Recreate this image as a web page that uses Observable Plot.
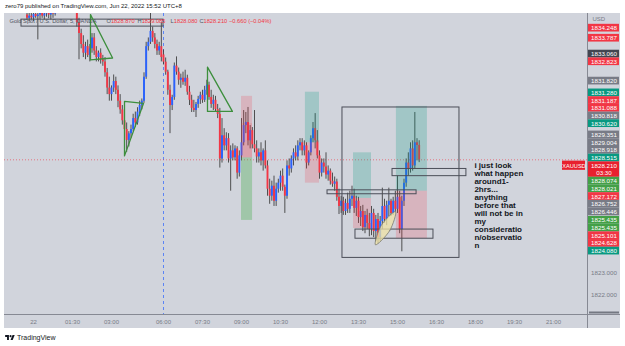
<!DOCTYPE html>
<html>
<head>
<meta charset="utf-8">
<script src="https://cdn.jsdelivr.net/npm/d3@7"></script>
<script src="https://cdn.jsdelivr.net/npm/@observablehq/plot@0.6"></script>
<style>
  html, body { margin: 0; padding: 0; background: #ffffff; }
  body { width: 625px; height: 346px; overflow: hidden; font-family: "Liberation Sans", Arial, sans-serif; }
  #title { height: 13px; line-height: 13px; padding-left: 5px; font-size: 6px; color: #131722; white-space: nowrap; }
  #chart { margin-left: 4px; width: 616px; height: 315px; background: #d1d4dc; }
  #chart svg { display: block; }
  #footer { height: 18px; display: flex; align-items: center; padding-left: 5px; font-size: 7px; color: #131722; }
  #footer svg { margin-right: 2px; }
</style>
</head>
<body>
<div id="title">zero79 published on TradingView.com, Jun 22, 2022 15:52 UTC+8</div>
<div id="chart"></div>
<div id="footer">
  <svg width="10" height="7" viewBox="0 0 36 26"><path d="M14 22H7V11H0V4h14z" fill="#131722"/><circle cx="20" cy="8" r="4" fill="#131722"/><path d="M28 22h-8l7.5-18h8z" fill="#131722"/></svg>
  <span>TradingView</span>
</div>
<script>
// XAUUSD 5-minute bars, Jun 22 2022 (UTC+8). Bar index 0 = 00:00; the
// 05:00–06:00 maintenance break is skipped, so index 60 = 06:00.
const firstBar = -3;

const open = [
  1834.85,1834.70,1834.80,1834.72,1834.88,1834.78,1834.85,1834.95,1834.80,1834.90,1835.05,1834.85,1835.00,1834.90,
  1835.10,1835.25,1835.15,1835.35,1835.20,1835.30,1835.25,1835.15,1835.20,
  1835.00,1834.50,1834.00,1833.50,1833.10,1833.40,1833.00,1833.30,1833.80,1833.20,1832.90,1833.10,1832.80,1832.70,
  1832.20,1831.50,1831.20,1831.50,1831.80,1831.40,1830.90,1830.50,1830.00,1829.60,1829.10,1829.40,1829.60,1830.10,
  1829.90,1830.40,1830.70,1830.90,1832.00,1833.40,1833.60,1834.10,1833.80,1833.50,1833.20,1833.40,
  1833.02,1832.69,1832.23,1831.40,1830.70,1831.07,1832.51,1832.23,1831.86,1831.95,1831.77,1831.95,
  1831.31,1830.94,1830.57,1830.47,1830.75,1830.98,1831.17,1830.94,1831.40,1831.63,1831.07,1830.75,
  1830.94,1830.52,1830.29,1828.25,1829.31,1828.85,1829.18,1828.25,1828.62,1828.30,1828.71,1827.60,
  1828.39,1828.99,1829.78,1829.92,1829.08,1829.55,1828.90,1828.71,1828.34,1828.53,1828.16,1828.62,
  1827.93,1826.86,1826.54,1827.00,1826.31,1826.86,1827.14,1827.46,1826.95,1826.54,1827.93,1827.79,
  1828.25,1828.53,1828.34,1828.85,1828.99,1828.62,1828.85,1828.06,1828.53,1829.18,1829.64,1829.08,
  1828.39,1827.60,1828.06,1827.88,1827.51,1827.69,1827.23,1827.09,1827.19,1826.49,1826.07,1826.31,
  1825.84,1826.21,1825.94,1826.40,1826.54,1825.98,1826.31,1825.56,1825.84,1825.10,1825.66,1825.29,
  1825.01,1825.75,1824.92,1825.47,1824.64,1825.38,1826.07,1825.47,1826.12,1826.31,1825.75,1826.31,
  1825.94,1826.49,1825.01,1826.31,1827.14,1828.06,1827.79,1828.71,1827.93,1828.99,1828.87
];
const high = [
  1835.10,1835.00,1835.05,1834.95,1835.10,1834.95,1835.10,1835.15,1835.00,1835.20,1835.25,1835.10,1835.20,1835.25,
  1835.40,1835.50,1835.45,1835.60,1835.45,1835.55,1835.45,1835.40,1835.35,
  1835.20,1834.70,1834.20,1833.90,1833.60,1833.70,1833.50,1834.00,1834.00,1833.40,1833.20,1833.30,1833.00,1832.90,
  1832.40,1832.00,1831.60,1832.10,1832.00,1831.60,1831.20,1830.70,1830.30,1829.90,1829.50,1829.80,1830.30,1830.40,
  1830.60,1830.90,1831.00,1832.20,1833.60,1833.80,1835.00,1834.30,1834.00,1833.70,1833.60,1834.50,
  1833.25,1832.88,1832.32,1831.63,1831.17,1832.65,1832.93,1832.42,1832.14,1832.23,1832.32,1832.09,
  1831.58,1831.17,1830.94,1830.84,1831.12,1831.31,1831.40,1831.58,1831.86,1831.77,1831.40,1831.17,
  1831.12,1830.75,1830.57,1830.10,1829.64,1829.45,1829.41,1828.85,1828.94,1828.85,1828.81,1828.62,
  1830.10,1830.47,1830.38,1830.61,1829.78,1829.69,1830.47,1829.08,1828.71,1828.99,1828.71,1829.08,
  1828.16,1827.32,1827.23,1827.46,1827.14,1827.32,1827.69,1827.79,1827.05,1828.16,1828.25,1828.39,
  1828.71,1828.85,1829.08,1829.18,1829.18,1829.08,1828.99,1828.62,1829.31,1829.92,1830.33,1829.55,
  1828.62,1828.25,1828.25,1828.53,1827.93,1827.79,1827.60,1827.42,1827.32,1826.86,1826.54,1826.49,
  1826.40,1826.68,1826.77,1827.00,1826.86,1826.54,1826.49,1826.07,1826.12,1825.84,1825.94,1825.75,
  1826.07,1825.94,1825.66,1825.75,1825.61,1826.91,1826.40,1826.31,1826.91,1826.40,1826.49,1826.77,
  1827.46,1826.77,1826.54,1827.32,1828.25,1828.53,1828.99,1829.08,1830.38,1829.18,1829.085
];
const low = [
  1834.60,1834.55,1834.62,1834.55,1834.70,1833.71,1834.65,1834.70,1834.62,1834.75,1834.68,1834.62,1834.70,1834.80,
  1835.02,1835.05,1835.05,1835.10,1835.05,1835.10,1835.05,1835.02,1834.98,
  1834.30,1832.80,1833.30,1832.90,1832.80,1832.90,1832.70,1833.10,1833.00,1832.70,1832.70,1832.60,1832.50,1832.00,
  1831.20,1830.90,1830.90,1831.30,1831.20,1830.60,1830.30,1829.80,1829.30,1828.55,1828.80,1829.20,1829.50,1829.70,
  1829.80,1830.20,1830.50,1830.80,1831.90,1833.20,1833.50,1833.60,1833.30,1833.00,1833.00,1832.70,
  1832.56,1832.09,1831.17,1829.41,1830.47,1830.94,1832.09,1831.63,1831.49,1831.63,1831.58,1831.17,
  1830.70,1830.38,1830.38,1830.15,1830.57,1830.75,1830.80,1830.84,1831.17,1830.94,1830.57,1830.47,
  1830.38,1830.10,1827.83,1828.06,1828.62,1828.62,1828.06,1826.77,1828.16,1828.16,1827.32,1827.42,
  1828.16,1828.85,1829.41,1828.85,1828.71,1828.71,1828.53,1828.06,1828.06,1827.93,1827.69,1827.79,
  1826.54,1826.17,1826.31,1826.07,1826.07,1826.68,1826.77,1826.77,1825.75,1826.40,1827.46,1827.60,
  1827.93,1828.16,1828.16,1828.62,1828.39,1828.39,1827.79,1827.93,1828.39,1828.99,1828.71,1828.25,
  1827.32,1827.42,1827.60,1827.32,1827.23,1827.05,1826.95,1826.77,1826.31,1825.70,1825.75,1825.66,
  1825.66,1825.75,1825.75,1826.07,1825.75,1825.61,1825.29,1825.15,1824.92,1824.82,1825.01,1824.68,
  1824.73,1824.64,1824.45,1824.36,1824.45,1825.01,1825.29,1825.19,1825.61,1825.61,1825.66,1825.75,
  1825.75,1824.82,1823.99,1826.07,1826.95,1827.46,1827.60,1827.69,1827.79,1828.16,1828.08
];
const close = [
  1834.70,1834.80,1834.72,1834.88,1834.78,1834.85,1834.95,1834.80,1834.90,1835.05,1834.85,1835.00,1834.90,1835.10,
  1835.25,1835.15,1835.35,1835.20,1835.30,1835.25,1835.15,1835.20,1835.00,
  1834.50,1834.00,1833.50,1833.10,1833.40,1833.00,1833.30,1833.80,1833.20,1832.90,1833.10,1832.80,1832.70,1832.20,
  1831.50,1831.20,1831.50,1831.80,1831.40,1830.90,1830.50,1830.00,1829.60,1829.10,1829.40,1829.60,1830.10,1829.90,
  1830.40,1830.70,1830.90,1832.00,1833.40,1833.60,1834.10,1833.80,1833.50,1833.20,1833.40,1832.90,
  1832.69,1832.23,1831.40,1830.70,1831.07,1832.51,1832.23,1831.86,1831.95,1831.77,1831.95,1831.31,
  1830.94,1830.57,1830.47,1830.75,1830.98,1831.17,1830.94,1831.40,1831.63,1831.07,1830.75,1830.94,
  1830.52,1830.29,1828.25,1829.31,1828.85,1829.18,1828.25,1828.62,1828.30,1828.71,1827.60,1828.39,
  1828.99,1829.78,1829.92,1829.08,1829.55,1828.90,1828.71,1828.34,1828.53,1828.16,1828.62,1827.93,
  1826.86,1826.54,1827.00,1826.31,1826.86,1827.14,1827.46,1826.95,1826.54,1827.93,1827.79,1828.25,
  1828.53,1828.34,1828.85,1828.99,1828.62,1828.85,1828.06,1828.53,1829.18,1829.64,1829.08,1828.39,
  1827.60,1828.06,1827.88,1827.51,1827.69,1827.23,1827.09,1827.19,1826.49,1826.07,1826.31,1825.84,
  1826.21,1825.94,1826.40,1826.54,1825.98,1826.31,1825.56,1825.84,1825.10,1825.66,1825.29,1825.01,
  1825.75,1824.92,1825.47,1824.64,1825.38,1826.07,1825.47,1826.12,1826.31,1825.75,1826.31,1825.94,
  1826.49,1825.01,1826.31,1827.14,1828.06,1827.79,1828.71,1827.93,1828.99,1828.87,1828.21
];

// Time axis: bar index of each label and its text
const timeTicks  = [0, 18, 36, 60, 78, 96, 114, 132, 150, 168, 186, 204, 222, 240];
const timeLabels = ["22","01:30","03:00","06:00","07:30","09:00","10:30","12:00","13:30","15:00","16:30","18:00","19:30","21:00"];
const priceTicks = [1822, 1823];

// Long/short position tools: bar span, entry, target and stop prices
const positions = [
  {from: 96,    to: 101.1, entry: 1828.30, target: 1825.43, stop: 1831.12, reached: 1829.87},
  {from: 125.5, to: 132,   entry: 1828.99, target: 1831.31, stop: 1827.14},
  {from: 147.7, to: 156,   entry: 1826.44, target: 1828.53, stop: 1825.06},
  {from: 167.5, to: 181.8, entry: 1826.77, target: 1830.66, stop: 1824.59}
];
// Rectangles drawn on the chart (bar span, top and bottom price)
const boxes = [
  {from: -5.54, to: 60,    top: 1834.64, bottom: 1834.32},
  {from: 142.6, to: 196.6, top: 1830.61, bottom: 1823.71},
  {from: 135.7, to: 176.8, top: 1826.81, bottom: 1826.63},
  {from: 148.6, to: 184.6, top: 1825.01, bottom: 1824.59},
  {from: 165.7, to: 199.8, top: 1827.79, bottom: 1827.46}
];
// Triangle patterns (vertices as bar index / price)
const triangles = [
  {id: 1, k: 26.3, p: 1834.87}, {id: 1, k: 26.3, p: 1832.79}, {id: 1, k: 36.5, p: 1832.88},
  {id: 2, k: 42.0, p: 1830.89}, {id: 2, k: 50.8, p: 1830.80}, {id: 2, k: 42.0, p: 1828.39},
  {id: 3, k: 80.3, p: 1832.46}, {id: 3, k: 80.3, p: 1830.43}, {id: 3, k: 91.8, p: 1830.43}
];
// Ellipse outline around the double bottom
const ellipse = [
  {k: 157.8, p: 1824.31}, {k: 164.4, p: 1824.96}, {k: 167.1, p: 1825.84}, {k: 160.5, p: 1825.20}
];
// Text note anchor
const note = {k: 203.5, p: 1828.11,
  text: "i just look\nwhat happen\naround1-\n2hrs...\nanything\nbefore that\nwill not be in\nmy\nconsideratio\nn/observatio\nn"};

// Price-scale tags (price, kind)
const tagPrices = [1834.248,1833.787,1833.060,1832.823,1831.820,1831.280,1831.187,1831.088,1830.818,1830.620,
  1829.351,1829.004,1828.918,1828.515,1828.074,1828.021,1827.172,1826.752,1826.446,1825.435,1825.435,1825.101,1824.628,1824.080];
const tagKinds = ["red","red","dark","red","gray","teal","red","red","gray","teal",
  "gray","gray","gray","teal","green","green","red","gray","gray","green","green","red","red","teal"];

// ---- layout ----
const W = 616, H = 315, MR = 33, MB = 14;
const xDomain = [-13.385, 255.69];
const yDomain = [1821.114, 1834.921];
const plotW = W - MR, plotH = H - MB;
const barPx = plotW / (xDomain[1] - xDomain[0]);
const pricePx = plotH / (yDomain[1] - yDomain[0]);
const barAt = px => xDomain[0] + px / barPx;
const priceAt = py => yDomain[1] - py / pricePx;
const pyOf = p => (yDomain[1] - p) * pricePx;

const UP = "#2962ff", DOWN = "#f23645";
const tagColor = {red: "#f23645", dark: "#434651", gray: "#787b86", teal: "#089981", green: "#43a047", last: "#e8202e"};

const bars = open.map((o, i) => ({k: firstBar + i, o, h: high[i], l: low[i], c: close[i]}));
const upBars = bars.filter(d => d.c >= d.o);
const downBars = bars.filter(d => d.c < d.o);
const last = bars[bars.length - 1], prev = bars[bars.length - 2];
const change = last.c - prev.c;
const changePct = change / prev.c * 100;

// Position tool zones
const profitZones = positions.map(d => ({...d, y1: d.entry, y2: d.target, short: d.target < d.entry}));
const lossZones = positions.map(d => ({...d, y1: d.entry, y2: d.stop}));
const runZones = positions.filter(d => d.reached != null).map(d => ({...d, y1: d.entry, y2: d.reached}));

// Stack tags on the price scale so they don't overlap
const TAG_H = 7.7;
const tags = tagPrices.map((p, i) => ({p, kind: tagKinds[i]}));
tags.push({p: last.c, kind: "last"});
tags.sort((a, b) => b.p - a.p);
let prevBottom = -Infinity;
for (const t of tags) {
  let cy = pyOf(t.p);
  if (cy - TAG_H / 2 < prevBottom) cy = prevBottom + TAG_H / 2;
  t.cy = cy;
  t.top = cy - TAG_H / 2;
  t.bottom = t.kind === "last" ? cy + TAG_H * 1.5 : cy + TAG_H / 2;
  prevBottom = t.bottom;
}
const lastTag = tags.find(t => t.kind === "last");
const tagX1 = barAt(plotW + 1), tagX2 = barAt(plotW + 32), tagXc = barAt(plotW + 16.5);

const fmt = v => v.toFixed(3);
const minus = s => s.replace("-", "\u2212");
const legendY = priceAt(8);
const legendParts = [
  {x: 5,     text: "Gold Spot / U.S. Dollar, 5, OANDA", fill: "#50535e"},
  {x: 102,   text: "O", fill: "#50535e"}, {x: 106.4, text: fmt(last.o), fill: DOWN},
  {x: 133,   text: "H", fill: "#50535e"}, {x: 137.2, text: fmt(last.h), fill: DOWN},
  {x: 166,   text: "L", fill: "#50535e"}, {x: 169.3, text: fmt(last.l), fill: DOWN},
  {x: 195,   text: "C", fill: "#50535e"}, {x: 199.0, text: fmt(last.c), fill: DOWN},
  {x: 224.5, text: minus(change.toFixed(3)) + " (" + minus(changePct.toFixed(2)) + "%)", fill: DOWN}
];

const chart = Plot.plot({
  width: W, height: H,
  marginTop: 0, marginLeft: 0, marginRight: MR, marginBottom: MB,
  style: {background: "transparent", fontFamily: "Liberation Sans, Arial, sans-serif", overflow: "visible"},
  x: {domain: xDomain, axis: null},
  y: {domain: yDomain, axis: null},
  color: {type: "identity"},
  marks: [
    // session break and last price line
    Plot.ruleX([60], {stroke: "#2962ff", strokeDasharray: "3,3", strokeOpacity: 0.7}),
    Plot.ruleY([last.c], {x1: xDomain[0], x2: xDomain[1], stroke: DOWN, strokeDasharray: "1,2", strokeOpacity: 0.6}),
    // candles
    Plot.ruleX(bars, {x: "k", y1: "l", y2: "h", stroke: "#404040", strokeWidth: 0.9, clip: true}),
    Plot.ruleX(upBars, {x: "k", y1: "o", y2: "c", stroke: UP, strokeWidth: 1.9, clip: true}),
    Plot.ruleX(downBars, {x: "k", y1: "o", y2: "c", stroke: DOWN, strokeWidth: 1.9, clip: true}),
    // position tools
    Plot.rect(profitZones, {x1: "from", x2: "to", y1: "y1", y2: "y2",
      fill: d => d.short ? "#4caf50" : "#089981", fillOpacity: d => d.short ? 0.36 : 0.24}),
    Plot.rect(lossZones, {x1: "from", x2: "to", y1: "y1", y2: "y2", fill: DOWN, fillOpacity: 0.2}),
    Plot.rect(runZones, {x1: "from", x2: "to", y1: "y1", y2: "y2", fill: DOWN, fillOpacity: 0.14}),
    // rectangles
    Plot.rect(boxes, {x1: "from", x2: "to", y1: "bottom", y2: "top", fill: "none", stroke: "#4b4e58", strokeWidth: 1}),
    // ellipse
    Plot.line(ellipse, {x: "k", y: "p", curve: "catmull-rom-closed", fill: "#efe3a6", fillOpacity: 0.75, stroke: "#7a7a70", strokeWidth: 0.8}),
    // triangles
    Plot.line(triangles, {x: "k", y: "p", z: "id", curve: "linear-closed", stroke: "#3d8f3d", strokeWidth: 1.3}),
    // legend
    Plot.text(legendParts, {x: d => barAt(d.x), y: legendY, text: "text", fill: "fill", textAnchor: "start", fontSize: 5.7}),
    // note
    Plot.text([note], {x: "k", y: "p", text: "text", textAnchor: "start", lineAnchor: "top", lineHeight: 1,
      fontSize: 8, fontWeight: "bold", fill: "#131722"}),
    // axis frame lines
    Plot.ruleX([xDomain[1]], {y1: priceAt(H), y2: yDomain[1], stroke: "#868993", strokeWidth: 1}),
    Plot.ruleY([yDomain[0]], {x1: xDomain[0], x2: barAt(W), stroke: "#868993", strokeWidth: 1}),
    Plot.rect([0], {x1: barAt(plotW + 2), x2: barAt(plotW + 32), y1: priceAt(plotH - 2.5), y2: priceAt(plotH - 0.5), fill: "#5d606b", fillOpacity: 0.8}),
    // time labels
    Plot.text(timeTicks, {x: d => d, y: priceAt(plotH + 8), text: (d, i) => timeLabels[i], fill: "#787b86", fontSize: 6}),
    // price labels
    Plot.text(["USD"], {x: barAt(plotW + 5), y: priceAt(6), text: d => d, textAnchor: "start", fill: "#787b86", fontSize: 6}),
    Plot.text(priceTicks, {x: tagXc, y: d => d, text: d => fmt(d), fill: "#787b86", fontSize: 6.2}),
    // price tags
    Plot.rect(tags, {x1: tagX1, x2: tagX2, y1: d => priceAt(d.top), y2: d => priceAt(d.bottom), fill: d => tagColor[d.kind]}),
    Plot.text(tags, {x: tagXc, y: d => priceAt(d.cy), text: d => fmt(d.p), fill: "white", fontSize: 6.2}),
    Plot.text([lastTag], {x: tagXc, y: d => priceAt(d.cy + TAG_H), text: () => "03:30", fill: "white", fontSize: 6.2}),
    // symbol tag on the last price
    Plot.rect([lastTag], {x1: barAt(558), x2: barAt(581), y1: d => priceAt(d.cy - 4.6), y2: d => priceAt(d.cy + 4.6), fill: tagColor.last}),
    Plot.text([lastTag], {x: barAt(569.5), y: d => priceAt(d.cy), text: () => "XAUUSD", fill: "white", fontSize: 5.6})
  ]
});
document.getElementById("chart").appendChild(chart);
</script>
</body>
</html>
